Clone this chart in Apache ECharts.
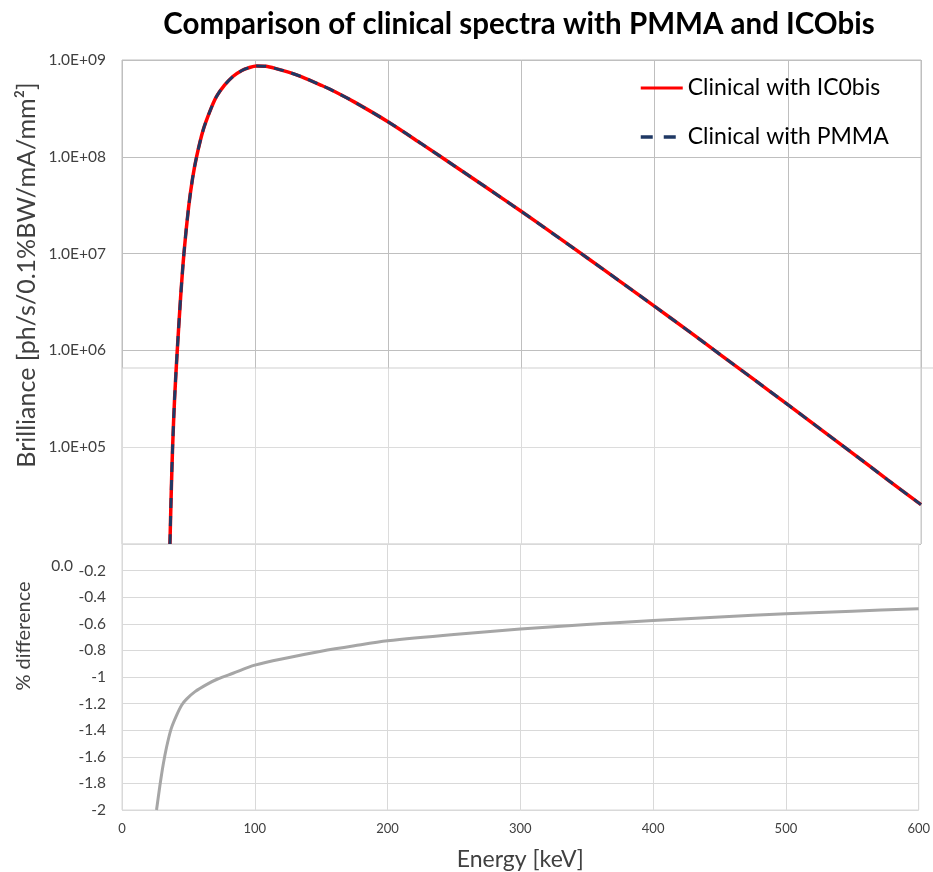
<!DOCTYPE html>
<html>
<head>
<meta charset="utf-8">
<script src="https://cdn.jsdelivr.net/npm/echarts@6/dist/echarts.min.js"></script>
<style>
html,body{margin:0;padding:0;background:#fff;}
#chart{width:933px;height:872px;}
</style>
</head>
<body>
<div id="chart"></div>
<script>
// ---- data ----
const energyTop = [36, 37, 38, 39.5, 41.5, 44, 46.5, 50, 53, 56, 61, 66, 71, 77, 83.5, 90, 95, 101, 108, 115, 125, 135, 150, 160, 175, 200, 225, 250, 275, 300, 325, 350, 375, 400, 425, 450, 475, 500, 525, 550, 575, 600];
const brillianceIC0bis = [1.0e4, 3.5e4, 1.0e5, 3.2e5, 1.0e6, 3.5e6, 1.0e7, 3.0e7, 6.0e7, 1.0e8, 1.9e8, 2.95e8, 4.2e8, 5.5e8, 6.8e8, 7.8e8, 8.3e8, 8.67e8, 8.6e8, 8.2e8, 7.5e8, 6.7e8, 5.45e8, 4.7e8, 3.65e8, 2.29e8, 1.36e8, 8.0e7, 4.68e7, 2.72e7, 1.56e7, 8.9e6, 5.05e6, 2.85e6, 1.6e6, 8.9e5, 4.95e5, 2.75e5, 1.52e5, 8.4e4, 4.6e4, 2.55e4];
const brilliancePMMA = [1.0e4, 3.5e4, 1.0e5, 3.2e5, 1.0e6, 3.5e6, 1.0e7, 3.0e7, 6.0e7, 1.0e8, 1.9e8, 2.95e8, 4.2e8, 5.5e8, 6.8e8, 7.8e8, 8.3e8, 8.67e8, 8.6e8, 8.2e8, 7.5e8, 6.7e8, 5.45e8, 4.7e8, 3.65e8, 2.29e8, 1.36e8, 8.0e7, 4.68e7, 2.72e7, 1.56e7, 8.9e6, 5.05e6, 2.85e6, 1.6e6, 8.9e5, 4.95e5, 2.75e5, 1.52e5, 8.4e4, 4.6e4, 2.55e4];
const energyDiff = [26, 28.5, 31, 33.5, 37, 41, 45, 48.6, 55, 63.6, 72, 83.6, 100, 125, 150, 175, 200, 250, 300, 350, 400, 450, 500, 550, 600];
const percentDiff = [-2.0, -1.82, -1.66, -1.53, -1.39, -1.29, -1.21, -1.166, -1.11, -1.057, -1.015, -0.972, -0.911, -0.855, -0.806, -0.765, -0.728, -0.68, -0.64, -0.605, -0.575, -0.548, -0.524, -0.505, -0.487];
const seriesNames = ['Clinical with IC0bis', 'Clinical with PMMA'];
const titleText = 'Comparison of clinical spectra with PMMA and ICObis';
const yNameTop = 'Brilliance [ph/s/0.1%BW/mA/mm²]';
const yNameBottom = '% difference';
const xName = 'Energy [keV]';

const FONT = 'Lato';
const zip = (xs, ys) => xs.map((x, i) => [x, ys[i]]);

const chart = echarts.init(document.getElementById('chart'), null, {renderer: 'canvas'});
const dark = '#bfbfbf', light = '#d9d9d9', txt = '#404040';
const hidden = {opacity: 0, color: 'rgba(0,0,0,0)', borderWidth: 0};

chart.setOption({
  animation: false,
  backgroundColor: '#fff',
  textStyle: {fontFamily: FONT},
  grid: [
    {left: 122, right: 12, top: 60, height: 484, show: true, borderColor: dark, borderWidth: 1, z: 0},
    {left: 122, right: 12, top: 544, height: 274, show: true, borderColor: light, borderWidth: 1, z: 3}
  ],
  xAxis: [
    {gridIndex: 0, type: 'value', min: 0, max: 600, interval: 100,
     axisLine: {show: false}, axisTick: {show: false}, axisLabel: {show: false},
     splitLine: {show: true, lineStyle: {color: dark, width: 1}}, z: 0},
    {gridIndex: 1, type: 'value', min: 0, max: 600, interval: 100,
     axisLine: {show: false}, axisTick: {show: false},
     axisLabel: {color: txt, fontSize: 13, fontFamily: FONT, margin: 12},
     splitLine: {show: true, lineStyle: {color: light, width: 1}},
     name: xName, nameLocation: 'middle', nameGap: 38,
     nameTextStyle: {color: txt, fontSize: 23, fontFamily: FONT}, z: 3}
  ],
  yAxis: [
    {gridIndex: 0, type: 'log', logBase: 10, min: 1e4, max: 1e9,
     axisLine: {show: false}, axisTick: {show: false},
     axisLabel: {color: txt, fontSize: 15.5, fontFamily: FONT, margin: 16,
       formatter: v => { const e = Math.round(Math.log10(v)); return e <= 4 ? '' : '1.0E+' + String(e).padStart(2, '0'); }},
     splitLine: {show: true, lineStyle: {color: dark, width: 1}}, z: 0},
    {gridIndex: 1, type: 'value', min: -2, max: 0, interval: 0.2,
     axisLine: {show: false}, axisTick: {show: false},
     axisLabel: {color: txt, fontSize: 15.5, fontFamily: FONT, margin: 16,
       formatter: v => (Math.abs(v) < 1e-9 ? '' : String(Math.round(v * 10) / 10))},
     splitLine: {show: true, lineStyle: {color: light, width: 1}}, z: 3}
  ],
  legend: {
    orient: 'vertical', left: 634, top: 71, itemWidth: 42, itemHeight: 24, itemGap: 25,
    textStyle: {color: '#000', fontSize: 23, fontFamily: FONT, lineHeight: 24},
    itemStyle: hidden,
    data: [
      {name: seriesNames[0], itemStyle: hidden, lineStyle: {color: '#ff0000', width: 3, type: 'solid'}},
      {name: seriesNames[1], itemStyle: hidden, lineStyle: {color: '#1f3864', width: 3.5, type: [12, 11, 12, 100]}}
    ]
  },
  graphic: [
    {type: 'rect', z: 1, shape: {x: 122, y: 368, width: 799, height: 176},
     style: {fill: 'rgba(255,255,255,0.45)', stroke: null}},
    {type: 'line', z: 1, shape: {x1: 122, y1: 368, x2: 933, y2: 368}, style: {stroke: '#cfcfcf', lineWidth: 1}},
    {type: 'line', z: 1, shape: {x1: 921, y1: 368, x2: 921, y2: 544}, style: {stroke: light, lineWidth: 1}},
    {type: 'text', z: 5, x: 519, y: 24, style: {text: titleText, fill: '#000', font: 'bold 29.5px ' + FONT, textAlign: 'center', textVerticalAlign: 'middle'}},
    {type: 'text', z: 5, x: 27, y: 275, rotation: Math.PI / 2, style: {text: yNameTop, fill: txt, font: '25px ' + FONT, textAlign: 'center', textVerticalAlign: 'middle'}},
    {type: 'text', z: 5, x: 24, y: 636, rotation: Math.PI / 2, style: {text: yNameBottom, fill: txt, font: '20px ' + FONT, textAlign: 'center', textVerticalAlign: 'middle'}},
    {type: 'text', z: 5, x: 73, y: 566, style: {text: '0.0', fill: txt, font: '15.5px ' + FONT, textAlign: 'right', textVerticalAlign: 'middle'}}
  ],
  series: [
    {name: seriesNames[0], type: 'line', xAxisIndex: 0, yAxisIndex: 0, z: 10,
     data: zip(energyTop, brillianceIC0bis), showSymbol: false, symbol: 'none', smooth: 0.3,
     lineStyle: {color: '#ff0000', width: 3.5}, itemStyle: {color: '#ff0000'}},
    {name: seriesNames[1], type: 'line', xAxisIndex: 0, yAxisIndex: 0, z: 11,
     data: zip(energyTop, brilliancePMMA), showSymbol: false, symbol: 'none', smooth: 0.3,
     lineStyle: {color: '#1f3864', width: 3, type: [10, 8]}, itemStyle: {color: '#1f3864'}},
    {name: 'difference', type: 'line', xAxisIndex: 1, yAxisIndex: 1, z: 10,
     data: zip(energyDiff, percentDiff), showSymbol: false, symbol: 'none', smooth: 0.3,
     lineStyle: {color: '#a6a6a6', width: 3}, itemStyle: {color: '#a6a6a6'}}
  ]
});
</script>
</body>
</html>
